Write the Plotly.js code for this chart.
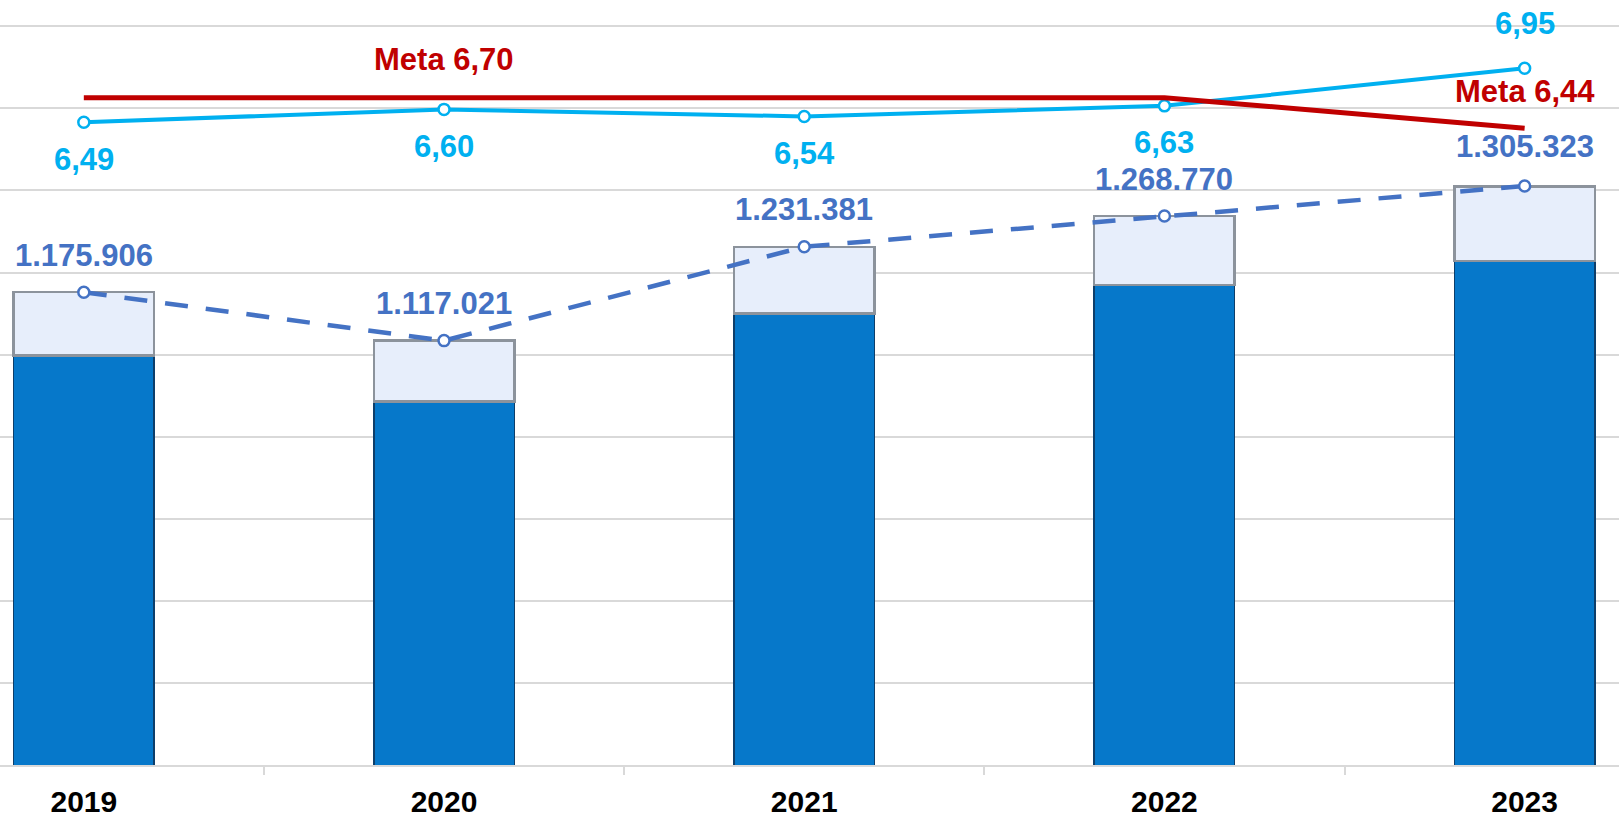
<!DOCTYPE html>
<html>
<head>
<meta charset="utf-8">
<script src="https://cdn.plot.ly/plotly-3.0.1.min.js"></script>
<style>html,body{margin:0;padding:0;background:#fff;}#chart{width:1619px;height:824px;}</style>
</head>
<body>
<div id="chart"></div>
<script>
// ---- data ----
const years = ['2019', '2020', '2021', '2022', '2023'];
const baseValues = [1099000, 1043000, 1150000, 1185000, 1214000];   // dark blue part
const capValues = [77000, 74000, 81000, 84000, 91000];               // light top part
const totals = [1175906, 1117021, 1231381, 1268770, 1305323];        // dashed line
const index = [6.49, 6.60, 6.54, 6.63, 6.95];                        // cyan line
const meta = [6.70, 6.70, 6.70, 6.70, 6.44];                         // red target line

function fmtInt(v) {
  return String(Math.round(v)).replace(/\B(?=(\d{3})+(?!\d))/g, '.');
}
function fmtDec(v) {
  return v.toFixed(2).replace('.', ',');
}

const FONT = 'Arial, Liberation Sans, sans-serif';
const CYAN = '#00B0F0', RED = '#C00000', DASH = '#4472C4';
const LBL = 31;

const traces = [
  {
    type: 'bar', x: years, y: baseValues, width: 0.39,
    marker: {color: '#0678CA', line: {color: '#0D3E6A', width: 1.5}},
    hoverinfo: 'skip', showlegend: false
  },
  {
    type: 'bar', x: years, y: capValues, width: 0.39,
    marker: {color: '#E7EEFB', line: {color: '#8C939C', width: 2.5}},
    hoverinfo: 'skip', showlegend: false
  },
  {
    type: 'scatter', mode: 'lines+markers', x: years, y: totals,
    line: {color: DASH, width: 4.5, dash: '23px,18px'},
    marker: {symbol: 'circle', size: 11, color: '#ffffff', line: {color: DASH, width: 2.5}},
    showlegend: false, hoverinfo: 'skip'
  },
  {
    type: 'scatter', mode: 'lines+markers', x: years, y: index, yaxis: 'y2',
    line: {color: CYAN, width: 4},
    marker: {symbol: 'circle', size: 11, color: '#ffffff', line: {color: CYAN, width: 2.5}},
    showlegend: false, hoverinfo: 'skip'
  },
  {
    type: 'scatter', mode: 'lines', x: years, y: meta, yaxis: 'y2',
    line: {color: RED, width: 5},
    showlegend: false, hoverinfo: 'skip'
  }
];

// annotations on a category axis take the category's serial number as x
const annotations = [];
years.forEach((yr, i) => {
  annotations.push({
    x: i, y: totals[i], xref: 'x', yref: 'y', text: fmtInt(totals[i]),
    showarrow: false, yshift: i === 4 ? 40 : 37,
    font: {family: FONT, size: LBL, color: DASH, weight: 700}
  });
  annotations.push({
    x: i, y: index[i], xref: 'x', yref: 'y2', text: fmtDec(index[i]),
    showarrow: false, yshift: i === 4 ? 45 : -37,
    font: {family: FONT, size: LBL, color: CYAN, weight: 700}
  });
});
[1, 4].forEach(i => {
  annotations.push({
    x: i, y: meta[i], xref: 'x', yref: 'y2', text: 'Meta ' + fmtDec(meta[i]),
    showarrow: false, yshift: i === 4 ? 37 : 38,
    font: {family: FONT, size: LBL, color: RED, weight: 700}
  });
});

const layout = {
  width: 1619, height: 824,
  margin: {l: 0, r: 0, t: 0, b: 59, pad: 0},
  paper_bgcolor: '#ffffff', plot_bgcolor: '#ffffff',
  barmode: 'stack', bargap: 0.6,
  showlegend: false,
  font: {family: FONT},
  xaxis: {
    type: 'category', range: [-0.2327, 4.262],
    showgrid: false, zeroline: false,
    showline: true, linecolor: '#D9D9D9', linewidth: 2,
    ticks: 'outside', tickson: 'boundaries', ticklen: 8, tickwidth: 2, tickcolor: '#D9D9D9',
    tickfont: {family: FONT, size: 30, color: '#000000', weight: 700},
    ticklabelstandoff: 9,
    fixedrange: true
  },
  yaxis: {
    range: [600000, 1532000], dtick: 100000, tick0: 0,
    showgrid: true, gridcolor: '#D9D9D9', gridwidth: 2,
    showticklabels: false, ticks: '', zeroline: false, showline: false,
    fixedrange: true
  },
  yaxis2: {
    overlaying: 'y', side: 'right', range: [1.0156, 7.5317],
    showgrid: false, showticklabels: false, ticks: '', zeroline: false, showline: false,
    fixedrange: true
  },
  annotations: annotations
};

Plotly.newPlot('chart', traces, layout, {displayModeBar: false, staticPlot: true});
</script>
</body>
</html>
